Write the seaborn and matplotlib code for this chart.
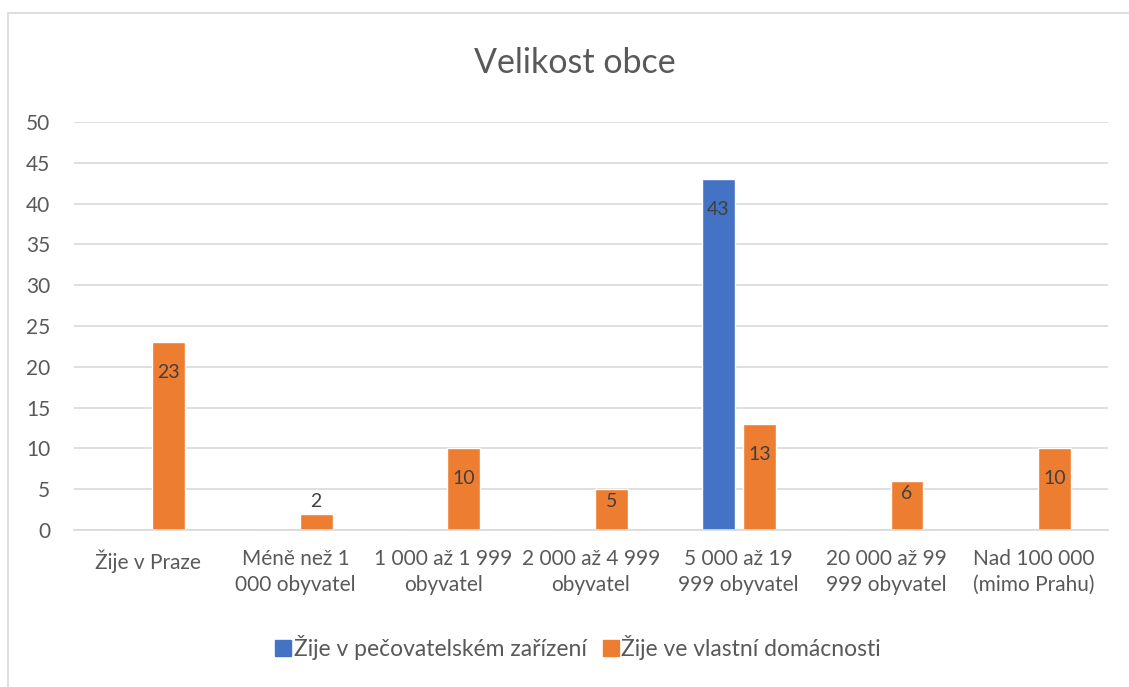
import pandas as pd
import matplotlib.pyplot as plt
import seaborn as sns
from matplotlib.lines import Line2D

categories = [
    "Žije v Praze",
    "Méně než 1\n000 obyvatel",
    "1 000 až 1 999\nobyvatel",
    "2 000 až 4 999\nobyvatel",
    "5 000 až 19\n999 obyvatel",
    "20 000 až 99\n999 obyvatel",
    "Nad 100 000\n(mimo Prahu)",
]
series_names = ["Žije v pečovatelském zařízení", "Žije ve vlastní domácnosti"]
care_home = [0, 0, 0, 0, 43, 0, 0]
own_home = [23, 2, 10, 5, 13, 6, 10]
y_ticks = [0, 5, 10, 15, 20, 25, 30, 35, 40, 45, 50]

TEXT = "#595959"
sns.set_theme(style="white")
plt.rcParams["font.family"] = ["Lato", "DejaVu Sans"]

df = pd.DataFrame({
    "kategorie": categories * 2,
    "skupina": [series_names[0]] * len(categories) + [series_names[1]] * len(categories),
    "hodnota": care_home + own_home,
})

fig = plt.figure(figsize=(11.29, 6.87), dpi=100)
ax = fig.add_axes([0.0655, 0.2285, 0.916, 0.594])

sns.barplot(
    data=df, x="kategorie", y="hodnota", hue="skupina",
    order=categories, hue_order=series_names,
    palette=["#4472C4", "#ED7D31"], width=0.556, gap=0.2,
    saturation=1, ax=ax, legend=False, errorbar=None,
)

# datové popisky
for container in ax.containers:
    for bar in container:
        h = bar.get_height()
        if h <= 0:
            continue
        if h >= 10:
            off = -22
        elif h >= 4:
            off = -9
        else:
            off = 9
        ax.annotate(
            f"{h:g}", (bar.get_x() + bar.get_width() / 2, h),
            xytext=(0, off), textcoords="offset points",
            ha="center", va="center", fontsize=14, color="#404040",
        )

ax.set_ylim(0, 50)
ax.set_yticks(y_ticks)
ax.set_xlim(-0.5, len(categories) - 0.5)
ax.yaxis.grid(True, color="#D9D9D9", linewidth=1.2)
ax.set_axisbelow(True)
for side in ["left", "right", "top"]:
    ax.spines[side].set_visible(False)
ax.spines["bottom"].set_color("#D9D9D9")
ax.spines["bottom"].set_linewidth(1.2)
ax.tick_params(axis="both", length=0, labelsize=15, labelcolor=TEXT)
ax.tick_params(axis="y", pad=17)
ax.tick_params(axis="x", pad=14)
for lbl in ax.get_xticklabels():
    lbl.set_linespacing(1.35)
ax.set_xlabel("")
ax.set_ylabel("")

fig.text(0.509, 0.908, "Velikost obce", ha="center", va="center",
         fontsize=24.5, color=TEXT)

handles = [
    Line2D([], [], marker="s", linestyle="", markersize=11,
           markerfacecolor=c, markeredgecolor=c)
    for c in ["#4472C4", "#ED7D31"]
]
fig.legend(handles, series_names, loc="center", bbox_to_anchor=(0.511, 0.057),
           ncol=2, frameon=False, fontsize=16.5, labelcolor=TEXT,
           handletextpad=0.0, columnspacing=0.6, handlelength=0.9)

# rámeček grafu (viditelný jen vlevo a nahoře)
fig.add_artist(Line2D([8 / 1129, 8 / 1129], [0, 1 - 13 / 687], color="#D9D9D9", lw=1.2))
fig.add_artist(Line2D([8 / 1129, 1], [1 - 13 / 687, 1 - 13 / 687], color="#D9D9D9", lw=1.2))

fig.savefig("out.png", dpi=100)
